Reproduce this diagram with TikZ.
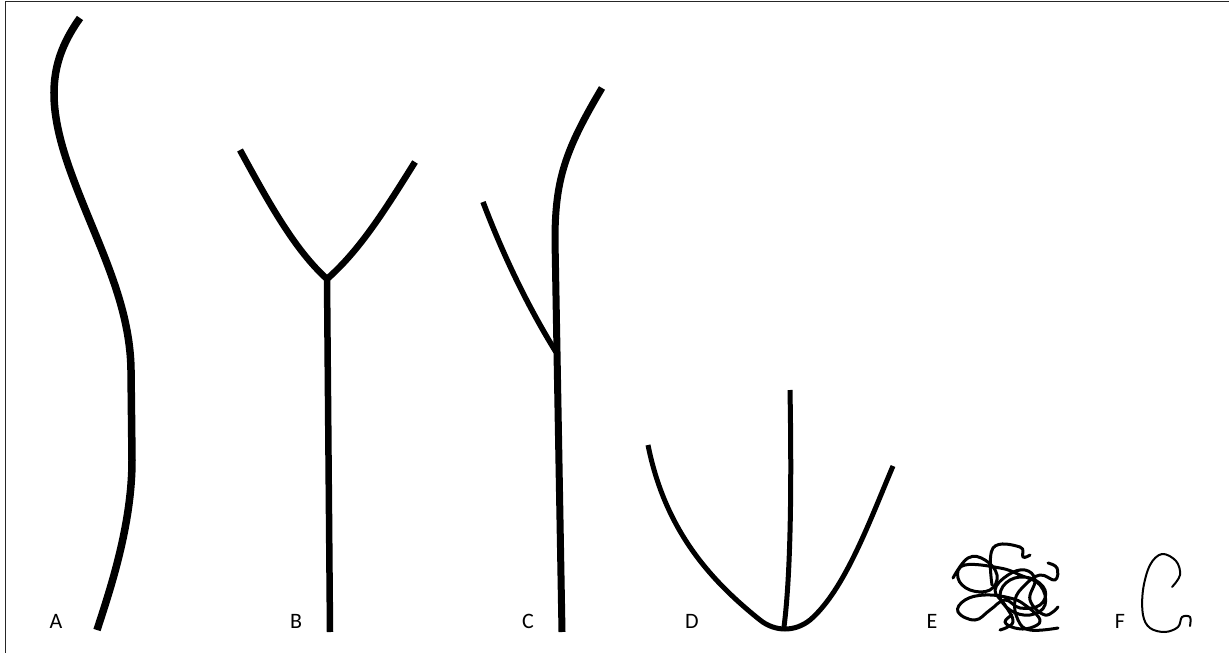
\documentclass[tikz,border=0pt]{standalone}
\usepackage{fontspec}
\setmainfont{Carlito}
\begin{document}
\begin{tikzpicture}[x=1pt,y=-1pt,
  stem/.style={line width=#1, line cap=butt, line join=round, black},
  knot/.style={line width=3pt, line cap=round, line join=round, black},
  lbl/.style={font=\fontsize{22}{22}\selectfont, anchor=center, inner sep=0pt}]
\useasboundingbox (0,0) rectangle (1229,653);
\draw[line width=1pt, black!85] (5,653) -- (5,1) -- (1229,1);
% A
\draw[stem=7.5pt] (80,18) .. controls (50,60) and (45,100) .. (70,170)
  .. controls (95,240) and (130,300) .. (131,370) -- (132,460)
  .. controls (132,525) and (110,590) .. (97,630);
% B
\coordinate (bj) at (327,279);
\draw[stem=6.5pt] (240,150) .. controls (270,205) and (295,250) .. (bj);
\draw[stem=6.5pt] (415,162) .. controls (385,210) and (360,250) .. (bj);
\draw[stem=6.5pt] (bj) -- (330,632);
% C
\coordinate (cj) at (556,352);
\draw[stem=7pt] (602,88) .. controls (565,150) and (555,180) .. (555,240) -- (562,632);
\draw[stem=5.5pt] (483,202) .. controls (505,260) and (530,310) .. (cj);
% D
\coordinate (dj) at (784,627);
\draw[stem=5pt] (648,445) .. controls (665,530) and (710,580) .. (760,620)
  .. controls (775,632) and (795,632) .. (810,620)
  .. controls (845,590) and (870,520) .. (893,466);
\draw[stem=5pt] (790,390) .. controls (792,500) and (790,580) .. (dj);
% E tangle
\draw[knot] plot[smooth, tension=0.7] coordinates {
 (953,578) (968,558) (985,560) (997,575) (990,590) (970,590) (958,578) (965,565)
 (1000,568) (1020,575) (1040,585) (1045,605) (1030,615) (1010,610) (1000,595)
 (1010,580) (1030,578) (1045,590) (1040,605) (1020,608) (1005,600) (990,610)
 (975,620) (958,612) (965,600) (985,595) (1010,598) (1025,605) (1040,620)
 (1030,628) (1015,628) (1005,622) (1012,615)};
\draw[knot] plot[smooth, tension=0.7] coordinates {
 (992,585) (993,548) (1020,547) (1023,557) (1030,555)};
\draw[knot] plot[smooth, tension=0.7] coordinates {
 (1048,563) (1057,568) (1055,580) (1040,575) (1025,585) (1015,600) (1018,620) (1030,630) (1058,628)};
\draw[knot] plot[smooth, tension=0.7] coordinates {
 (1000,630) (1013,622) (1005,605) (995,590) (1008,575) (1025,570) (1035,580) (1030,600) (1045,615) (1058,607)};
% F
\draw[line width=2pt, line cap=round, line join=round] plot[smooth, tension=0.6] coordinates {
 (1172,587) (1180,575) (1176,561) (1162,554) (1150,565) (1143,590) (1143,615) (1150,628) (1165,632) (1178,627) (1182,617) (1190,617) (1190,626)};
% labels
\node[lbl] (la) at (56,621) {A};
\node[lbl] (lb) at (296,621) {B};
\node[lbl] (lc) at (528,621) {C};
\node[lbl] (ld) at (692,621) {D};
\node[lbl] (le) at (932,621) {E};
\node[lbl] (lf) at (1120,621) {F};
\end{tikzpicture}
\end{document}
